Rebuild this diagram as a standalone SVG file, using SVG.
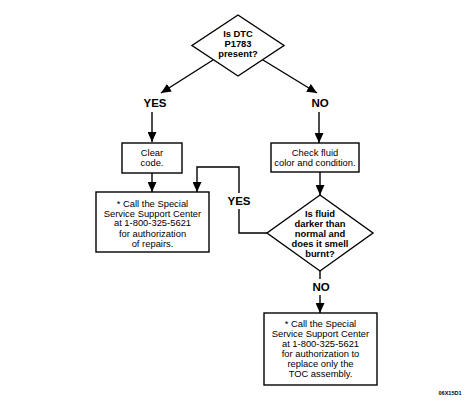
<svg xmlns="http://www.w3.org/2000/svg" width="474" height="403" viewBox="0 0 474 403">
<defs>
<marker id="ah" markerUnits="userSpaceOnUse" markerWidth="10" markerHeight="9" refX="10" refY="4.5" orient="auto">
<path d="M0,0 L10,4.5 L0,9 z" fill="#000"/>
</marker>
<style>
.shape{fill:#fff;stroke:#000;stroke-width:1.4}
.line{fill:none;stroke:#000;stroke-width:1.4}
.t{font-family:"Liberation Sans",Arial,sans-serif;font-size:9.4px;text-anchor:middle;fill:#000}
.b{font-family:"Liberation Sans",Arial,sans-serif;font-size:9.4px;font-weight:bold;text-anchor:middle;fill:#000}
.lbl{font-family:"Liberation Sans",Arial,sans-serif;font-size:11.5px;font-weight:bold;text-anchor:middle;fill:#000}
</style>
</defs>
<rect width="474" height="403" fill="#fff"/>
<g id="connectors">
<line class="line" x1="213" y1="60" x2="161" y2="93" marker-end="url(#ah)"/>
<line class="line" x1="263" y1="60" x2="317" y2="93" marker-end="url(#ah)"/>
<line class="line" x1="152" y1="112" x2="152" y2="142" marker-end="url(#ah)"/>
<line class="line" x1="152" y1="173" x2="152" y2="192" marker-end="url(#ah)"/>
<line class="line" x1="319" y1="112" x2="319" y2="143" marker-end="url(#ah)"/>
<line class="line" x1="320" y1="172" x2="320" y2="195" marker-end="url(#ah)"/>
<path class="line" d="M268,233 H239 V209"/>
<path class="line" d="M239,193 V167 H197 V192" marker-end="url(#ah)"/>
<line class="line" x1="320" y1="271" x2="320" y2="279"/>
<line class="line" x1="320" y1="295" x2="320" y2="313" marker-end="url(#ah)"/>
</g>
<g id="q1">
<polygon class="shape" points="238,15 284,45.5 238,76 192,45.5"/>
<text class="b" x="238" y="36.5">Is DTC</text>
<text class="b" x="238" y="46.5">P1783</text>
<text class="b" x="238" y="56.5">present?</text>
</g>
<g id="yes1"><text class="lbl" x="155" y="107">YES</text></g>
<g id="no1"><text class="lbl" x="320" y="107">NO</text></g>
<g id="clear">
<rect class="shape" x="122" y="143" width="60" height="30"/>
<text class="t" x="152" y="156">Clear</text>
<text class="t" x="152" y="166">code.</text>
</g>
<g id="call1">
<rect class="shape" x="96" y="192" width="113" height="60"/>
<text class="t" x="152.5" y="206.5">* Call the Special</text>
<text class="t" x="152.5" y="216.5">Service Support Center</text>
<text class="t" x="152.5" y="226">at 1-800-325-5621</text>
<text class="t" x="152.5" y="236.5">for authorization</text>
<text class="t" x="152.5" y="246.5">of repairs.</text>
</g>
<g id="check">
<rect class="shape" x="271" y="143" width="88" height="29"/>
<text class="t" x="315" y="156">Check fluid</text>
<text class="t" x="315" y="166">color and condition.</text>
</g>
<g id="q2">
<polygon class="shape" points="320,195 373,233 320,271 267,233"/>
<text class="b" x="320" y="216.5">Is fluid</text>
<text class="b" x="320" y="226.5">darker than</text>
<text class="b" x="320" y="236.5">normal and</text>
<text class="b" x="320" y="246.5">does it smell</text>
<text class="b" x="320" y="256.5">burnt?</text>
</g>
<g id="yes2"><text class="lbl" x="239" y="205">YES</text></g>
<g id="no2"><text class="lbl" x="321" y="291">NO</text></g>
<g id="call2">
<rect class="shape" x="264" y="313" width="113" height="72"/>
<text class="t" x="320.5" y="326.5">* Call the Special</text>
<text class="t" x="320.5" y="336.5">Service Support Center</text>
<text class="t" x="320.5" y="346.5">at 1-800-325-5621</text>
<text class="t" x="320.5" y="356.5">for authorization to</text>
<text class="t" x="320.5" y="366.5">replace only the</text>
<text class="t" x="320.5" y="376.5">TOC assembly.</text>
</g>
<text x="450" y="395" font-family="'Liberation Sans',Arial,sans-serif" font-size="5.5" font-weight="bold" text-anchor="middle">06X15D1</text>
</svg>
